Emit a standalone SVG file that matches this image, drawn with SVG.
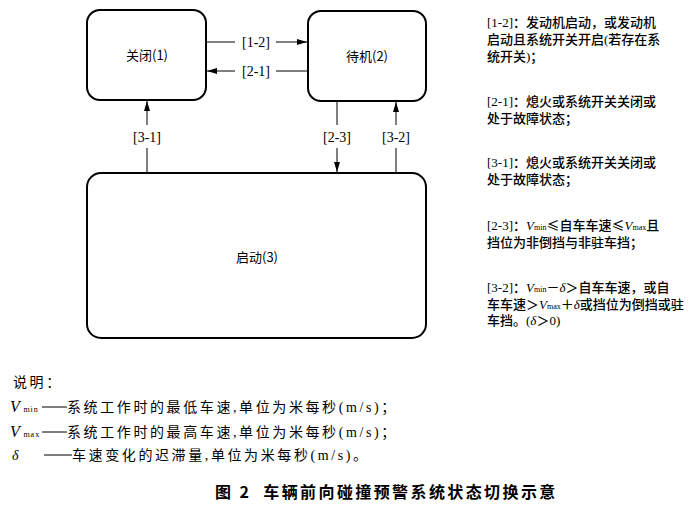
<svg xmlns="http://www.w3.org/2000/svg" width="690" height="512" viewBox="0 0 690 512">
<style>
.box{fill:#fff;stroke:#000;stroke-width:2}
.ln{stroke:#000;stroke-width:1;fill:none}
.nt{font-family:"Noto Sans CJK SC",sans-serif;font-size:13px;text-anchor:middle;fill:#000}
.lb{font-family:"Liberation Serif","Noto Sans CJK SC",serif;font-size:14px;text-anchor:middle;fill:#000}
.an{font-family:"Liberation Serif","Noto Sans CJK SC",serif;font-size:13px;fill:#000;font-weight:500}
.cj{font-family:"Noto Sans CJK SC",sans-serif}
.lg{font-family:"Liberation Serif","Noto Sans CJK SC",serif;font-size:14px;fill:#000;letter-spacing:2.6px}
.it{font-style:italic;font-weight:normal}
.sub{font-size:8px;font-weight:normal}
.ttl{font-family:"Noto Sans CJK SC",sans-serif;font-size:16px;font-weight:bold;fill:#000;letter-spacing:2.4px}
</style>
<defs>
<marker id="ah" viewBox="0 0 10 6" refX="10" refY="3" markerWidth="10" markerHeight="6" markerUnits="userSpaceOnUse" orient="auto">
<path d="M0,0 L10,3 L0,6 Z" fill="#000"/>
</marker>
</defs>
<g id="n1"><rect class="box" x="87" y="10" width="119" height="90" rx="13"/><text class="nt" x="147" y="60">关闭(1)</text></g>
<g id="n2"><rect class="box" x="308" y="11" width="118" height="90" rx="13"/><text class="nt" x="367" y="61">待机(2)</text></g>
<g id="n3"><rect class="box" x="87" y="173" width="339" height="165" rx="14"/><text class="nt" x="257" y="262">启动(3)</text></g>
<g id="edges">
<line class="ln" x1="206" y1="42" x2="235" y2="42"/><line class="ln" x1="276" y1="42" x2="307" y2="42" marker-end="url(#ah)"/>
<text class="lb" x="256" y="47">[1-2]</text>
<line class="ln" x1="308" y1="71" x2="276" y2="71"/><line class="ln" x1="235" y1="71" x2="207" y2="71" marker-end="url(#ah)"/>
<text class="lb" x="256" y="76">[2-1]</text>
<line class="ln" x1="147" y1="173" x2="147" y2="148"/><line class="ln" x1="147" y1="125" x2="147" y2="101" marker-end="url(#ah)"/>
<text class="lb" x="147" y="142">[3-1]</text>
<line class="ln" x1="337" y1="101" x2="337" y2="125"/><line class="ln" x1="337" y1="148" x2="337" y2="172" marker-end="url(#ah)"/>
<text class="lb" x="337" y="142">[2-3]</text>
<line class="ln" x1="396" y1="173" x2="396" y2="148"/><line class="ln" x1="396" y1="125" x2="396" y2="102" marker-end="url(#ah)"/>
<text class="lb" x="396" y="142">[3-2]</text>
</g>
<g id="notes">
<text class="an" x="487" y="27">[1-2]：发动机启动，或发动机</text>
<text class="an" x="487" y="44">启动且系统开关开启(若存在系</text>
<text class="an" x="487" y="61">统开关)；</text>
<text class="an" x="487" y="106">[2-1]：熄火或系统开关关闭或</text>
<text class="an" x="487" y="123">处于故障状态；</text>
<text class="an" x="487" y="167">[3-1]：熄火或系统开关关闭或</text>
<text class="an" x="487" y="184">处于故障状态；</text>
<text class="an" x="487" y="230">[2-3]：<tspan class="it">V</tspan><tspan class="sub">min</tspan><tspan class="cj">≤</tspan>自车车速<tspan class="cj">≤</tspan><tspan class="it">V</tspan><tspan class="sub">max</tspan>且</text>
<text class="an" x="487" y="247">挡位为非倒挡与非驻车挡；</text>
<text class="an" x="487" y="292">[3-2]：<tspan class="it">V</tspan><tspan class="sub">min</tspan>－<tspan class="it">δ</tspan>＞自车车速，或自</text>
<text class="an" x="487" y="309">车车速＞<tspan class="it">V</tspan><tspan class="sub">max</tspan>＋<tspan class="it">δ</tspan>或挡位为倒挡或驻</text>
<text class="an" x="487" y="325">车挡。(<tspan class="it">δ</tspan>＞0)</text>
</g>
<g id="legend">
<text class="lg" x="13" y="387">说明：</text>
<text class="lg" x="10" y="412"><tspan class="it" font-size="16px">V</tspan><tspan class="sub" dx="1" letter-spacing="1">min</tspan></text>
<line class="ln" x1="42" y1="407" x2="67" y2="407"/>
<text class="lg" x="67" y="412">系统工作时的最低车速,单位为米每秒(m/s)；</text>
<text class="lg" x="10" y="437"><tspan class="it" font-size="16px">V</tspan><tspan class="sub" dx="1" letter-spacing="1">max</tspan></text>
<line class="ln" x1="42" y1="432" x2="67" y2="432"/>
<text class="lg" x="67" y="437">系统工作时的最高车速,单位为米每秒(m/s)；</text>
<text class="lg it" x="12" y="460">δ</text>
<line class="ln" x1="44" y1="455" x2="72" y2="455"/>
<text class="lg" x="72" y="460">车速变化的迟滞量,单位为米每秒(m/s)。</text>
</g>
<text class="ttl" x="215" y="498">图 2<tspan dx="12">车辆前向碰撞预警系统状态切换示意</tspan></text>
</svg>
